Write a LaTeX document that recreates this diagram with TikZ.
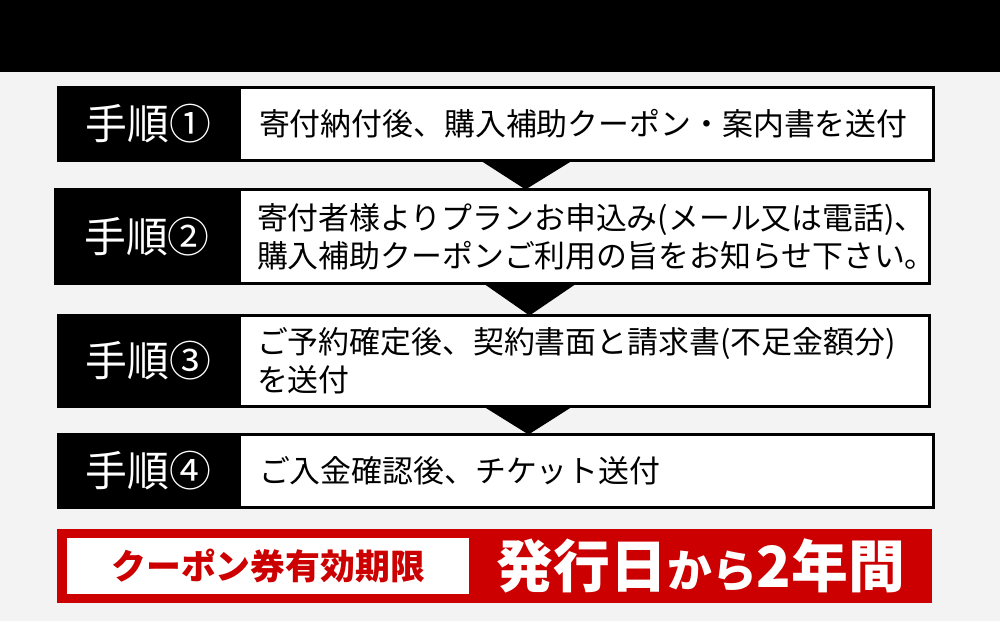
\documentclass[tikz,border=0pt]{standalone}
\usepackage{fontspec}
\newfontfamily\jp{Noto Sans CJK JP}
\usetikzlibrary{calc}
\definecolor{pageBg}{HTML}{F3F3F3}
\definecolor{limRed}{HTML}{CC0000}

\begin{document}
\begin{tikzpicture}[
  x=1bp, y=-1bp,
  tab/.style={anchor=north west, fill=black, text=white, inner sep=0pt, outer sep=0pt,
    font=\jp\fontsize{42}{42}\selectfont},
  box/.style={anchor=north west, fill=white, draw=black, line width=3bp, outer sep=0pt,
    inner xsep=17bp, inner ysep=0pt, align=left, text width=655bp,
    font=\jp\fontsize{31}{38}\selectfont},
  chev/.style={fill=black},
]
\useasboundingbox (0,0) rectangle (1000,621);

% =========================== BACKGROUND ===========================
\fill[pageBg] (0,0) rectangle (1000,621);
\fill[black] (0,0) rectangle (1000,72);

% =========================== STEPS ===========================
\node[tab, minimum width=183bp, minimum height=76bp] (tab1) at (57,86) {手順①};
\node[box, minimum width=694bp, minimum height=73bp] (box1) at (239.5,87.5)
  {寄付納付後、購入補助クーポン・案内書を送付};

\node[tab, minimum width=186bp, minimum height=97bp] (tab2) at (54,188) {手順②};
\node[box, minimum width=690bp, minimum height=94bp] (box2) at (239.5,189.5)
  {寄付者様よりプランお申込み(メール又は電話)、\\購入補助クーポンご利用の旨をお知らせ下さい。};

\node[tab, minimum width=183bp, minimum height=94bp] (tab3) at (57,314) {手順③};
\node[box, minimum width=690bp, minimum height=91bp] (box3) at (239.5,315.5)
  {ご予約確定後、契約書面と請求書(不足金額分)\\を送付};

\node[tab, minimum width=183bp, minimum height=76bp] (tab4) at (57,433) {手順④};
\node[box, minimum width=694bp, minimum height=73bp] (box4) at (239.5,434.5)
  {ご入金確認後、チケット送付};

% step -> step
\fill[chev] ($(box1.south)+(-106,0)$) -- ($(box1.south)+(-14,0)$) -- ($(box2.north)+(-59,0)$) -- cycle;
\fill[chev] ($(box2.south)+(-101,0)$) -- ($(box2.south)+(-8,0)$) -- ($(box3.north)+(-55,0)$) -- cycle;
\fill[chev] ($(box3.south)+(-101,0)$) -- ($(box3.south)+(-12,0)$) -- ($(box4.north)+(-58,0)$) -- cycle;

% =========================== COUPON LIMIT ===========================
\node[anchor=north west, fill=limRed, inner sep=0pt, minimum width=875bp, minimum height=74bp] (limbar)
  at (57,529) {};
\node[anchor=north west, fill=white, inner sep=0pt, minimum width=402bp, minimum height=56bp,
  text=limRed, font=\jp\fontsize{35}{35}\selectfont\bfseries] (limlab)
  at (67,538) {クーポン券有効期限};
\node[text=white, inner sep=0pt, font=\jp\fontsize{57}{57}\selectfont\bfseries] (limval)
  at ($(limlab.east)!0.5!(limbar.east)$) {発行日{\fontsize{45}{45}\selectfont から}2年間};

\end{tikzpicture}
\end{document}
